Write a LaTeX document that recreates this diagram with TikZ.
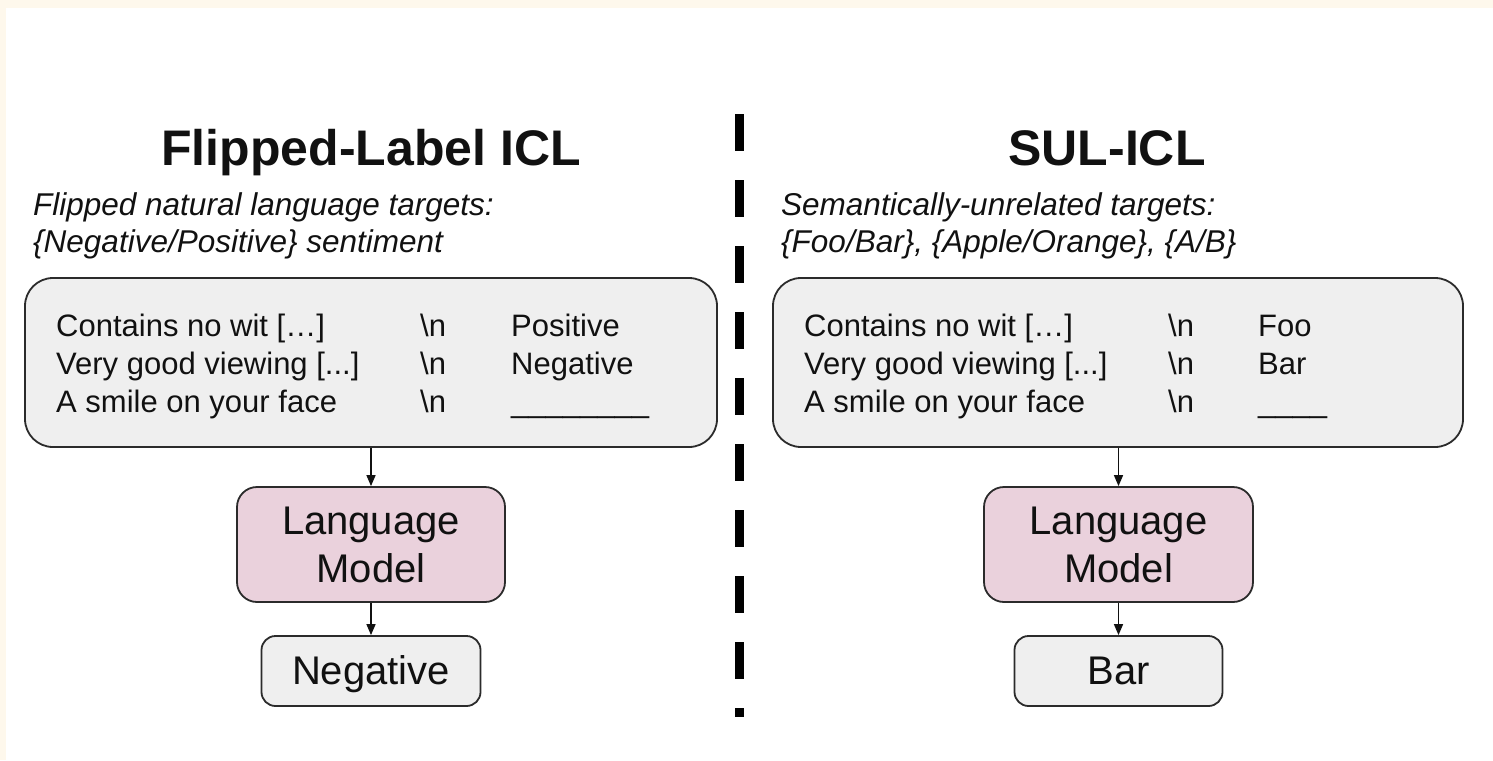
\documentclass[tikz,border=0pt]{standalone}
\usepackage{fontspec}
\setmainfont{Liberation Sans}
\usetikzlibrary{arrows.meta}
\definecolor{pagecream}{HTML}{FEF8EC}
\definecolor{panelgray}{HTML}{EFEFEF}
\definecolor{modelpink}{HTML}{EAD1DC}
\definecolor{edge}{HTML}{2B2B2B}
\definecolor{ink}{HTML}{111111}
\begin{document}
\begin{tikzpicture}[x=1pt,y=-1pt,
  panel/.style={draw=edge, line width=1.8pt, fill=panelgray, rounded corners=28pt, inner sep=0pt},
  modelbox/.style={draw=edge, line width=1.8pt, fill=modelpink, rounded corners=20pt, align=center,
    font=\fontsize{40}{48}\selectfont, text=ink, inner sep=0pt},
  outbox/.style={draw=edge, line width=1.8pt, fill=panelgray, rounded corners=14pt,
    font=\fontsize{40}{48}\selectfont, text=ink, inner sep=0pt, text height=29pt, text depth=2pt},
  heading/.style={anchor=base, font=\fontsize{50}{60}\selectfont\bfseries, text=ink, inner sep=0pt},
  subtitle/.style={anchor=base west, font=\fontsize{31.5}{36}\selectfont\itshape, text=ink, inner sep=0pt},
  row/.style={anchor=base west, font=\fontsize{31}{37}\selectfont, text=ink, inner sep=0pt},
  arr/.style={draw=ink, line width=1.5pt, -{Triangle[length=11pt,width=9pt]}},
  divider/.style={draw=black, line width=9pt, dash pattern=on 37pt off 29pt}
]
\useasboundingbox (0,0) rectangle (1493,760);
% page background with its thin cream frame along the top and left
\fill[pagecream] (0,0) rectangle (1493,760);
\fill[white] (6,8) rectangle (1493,760);

% ---------- left half: flipped labels ----------
\node[heading] (titleL) at (371,165) {Flipped-Label ICL};
\node[subtitle] (subL1) at (33,215) {Flipped natural language targets:};
\node[subtitle] (subL2) at (33,252) {\{Negative/Positive\} sentiment};

\node[panel, minimum width=692pt, minimum height=169pt] (promptL) at (371,362.5) {};
\node[row] (l11) at (56,336) {Contains no wit […]};
\node[row] (l12) at (420,336) {\textbackslash n};
\node[row] (l13) at (511,336) {Positive};
\node[row] (l21) at (56,374) {Very good viewing [...]};
\node[row] (l22) at (420,374) {\textbackslash n};
\node[row] (l23) at (511,374) {Negative};
\node[row] (l31) at (56,412) {A smile on your face};
\node[row] (l32) at (420,412) {\textbackslash n};
\node[row] (l33) at (511,412) {\_\_\_\_\_\_\_\_};

\node[modelbox, minimum width=268pt, minimum height=115pt] (lmL) at (371,544.5) {Language\\Model};
\node[outbox, minimum width=219pt, minimum height=70pt] (outL) at (371,671) {Negative};

\draw[arr] (promptL.south -| lmL.north) -- (lmL.north);
\draw[arr] (lmL.south) -- (outL.north);

% ---------- divider ----------
\coordinate (divtop) at (739.5,114);
\coordinate (divbot) at (739.5,717);
\draw[divider] (divtop) -- (divbot);

% ---------- right half: semantically-unrelated labels ----------
\node[heading] (titleR) at (1107,165) {SUL-ICL};
\node[subtitle] (subR1) at (781,215) {Semantically-unrelated targets:};
\node[subtitle] (subR2) at (781,252) {\{Foo/Bar\}, \{Apple/Orange\}, \{A/B\}};

\node[panel, minimum width=690pt, minimum height=169pt] (promptR) at (1118,362.5) {};
\node[row] (r11) at (804,336) {Contains no wit […]};
\node[row] (r12) at (1168,336) {\textbackslash n};
\node[row] (r13) at (1258,336) {Foo};
\node[row] (r21) at (804,374) {Very good viewing [...]};
\node[row] (r22) at (1168,374) {\textbackslash n};
\node[row] (r23) at (1258,374) {Bar};
\node[row] (r31) at (804,412) {A smile on your face};
\node[row] (r32) at (1168,412) {\textbackslash n};
\node[row] (r33) at (1258,412) {\_\_\_\_};

\node[modelbox, minimum width=269pt, minimum height=115pt] (lmR) at (1118.5,544.5) {Language\\Model};
\node[outbox, minimum width=208pt, minimum height=70pt] (outR) at (1118.5,671) {Bar};

\draw[arr] (promptR.south -| lmR.north) -- (lmR.north);
\draw[arr] (lmR.south) -- (outR.north);
\end{tikzpicture}
\end{document}
